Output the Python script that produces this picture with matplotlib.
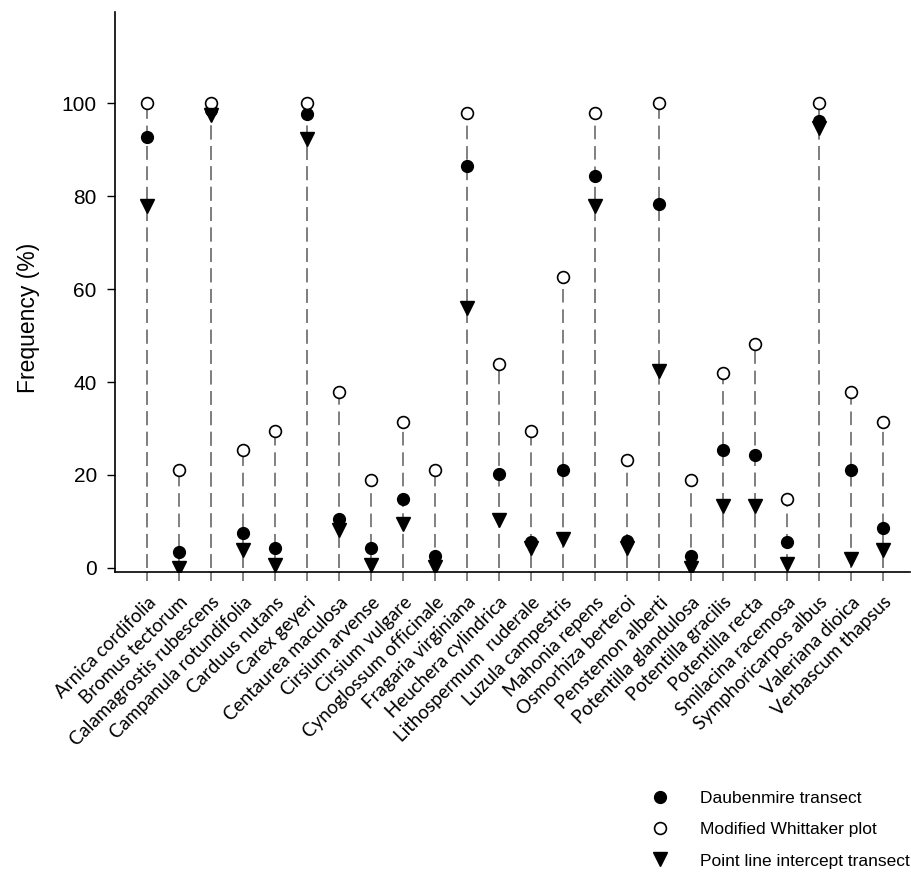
import numpy as np
import matplotlib.pyplot as plt

plt.rcParams["font.family"] = ["Liberation Sans", "DejaVu Sans"]

species = ["Arnica cordifolia", "Bromus tectorum", "Calamagrostis rubescens",
           "Campanula rotundifolia", "Carduus nutans", "Carex geyeri",
           "Centaurea maculosa", "Cirsium arvense", "Cirsium vulgare",
           "Cynoglossum officinale", "Fragaria virginiana", "Heuchera cylindrica",
           "Lithospermum  ruderale", "Luzula campestris", "Mahonia repens",
           "Osmorhiza berteroi", "Penstemon alberti", "Potentilla glandulosa",
           "Potentilla gracilis", "Potentilla recta", "Smilacina racemosa",
           "Symphoricarpos albus", "Valeriana dioica", "Verbascum thapsus"]

daubenmire = [92.7, 3.4, 98.5, 7.5, 4.3, 97.8, 10.6, 4.3, 14.8, 2.5, 86.5, 20.1,
              5.6, 21.1, 84.4, 5.7, 78.3, 2.5, 25.3, 24.2, 5.6, 96.1, 21.0, 8.6]
whittaker = [100, 21.1, 100, 25.3, 29.4, 100, 37.8, 19.0, 31.5, 21.1, 98.0, 43.9,
             29.5, 62.7, 98.0, 23.3, 100, 19.0, 41.9, 48.2, 14.8, 100, 37.8, 31.5]
point_line = [77.8, 0, 97.5, 3.9, 0.7, 92.3, 8.2, 0.7, 9.5, 0.2, 55.9, 10.2,
              4.2, 6.1, 77.8, 4.3, 42.3, 0, 13.3, 13.3, 0.9, 94.6, 1.8, 3.9]

x = np.arange(1, len(species) + 1)

fig = plt.figure(figsize=(9.12, 8.8), dpi=100)
ax = fig.add_axes([0.126, 0.35, 0.872, 0.636])

# drop lines from zero to each point
for vals in (whittaker, daubenmire, point_line):
    ax.vlines(x, 0, vals, colors="#808080", linestyles=(0, (7, 3.5)),
              linewidth=1.4, zorder=1)

h_daub, = ax.plot(x, daubenmire, "o", color="black", ms=8.5, ls="none", zorder=3)
h_whit, = ax.plot(x, whittaker, "o", mfc="white", mec="black", mew=1.2, ms=8.5,
                  ls="none", zorder=3)
h_pl, = ax.plot(x, point_line, "v", color="black", ms=10, ls="none", zorder=3)

ax.set_xlim(0, 24.85)
ax.set_ylim(-0.9, 119.6)
ax.set_yticks([0, 20, 40, 60, 80, 100])
ax.set_xticks(x)
ax.set_xticklabels(species, rotation=45, ha="right", rotation_mode="anchor",
                   family="Lato", fontsize=13.5)
ax.tick_params(axis="x", colors="#808080", length=6.5, width=1.4,
               labelcolor="black", pad=9)
ax.tick_params(axis="y", length=6, width=1, labelsize=15, pad=7)

ax.spines["top"].set_visible(False)
ax.spines["right"].set_visible(False)
ax.spines["left"].set_linewidth(1.2)
ax.spines["bottom"].set_linewidth(1.2)

ax.set_ylabel("Frequency (%)", fontsize=16.5)
ax.yaxis.set_label_coords(-0.094, 0.454)

fig.legend([h_daub, h_whit, h_pl],
           ["Daubenmire transect", "Modified Whittaker plot",
            "Point line intercept transect"],
           loc="upper left", bbox_to_anchor=(0.714, 0.101),
           frameon=False, prop={"size": 12.5},
           handlelength=1.0, handletextpad=1.8, labelspacing=0.92,
           borderpad=0, borderaxespad=0)

fig.savefig("out.png", dpi=100)
